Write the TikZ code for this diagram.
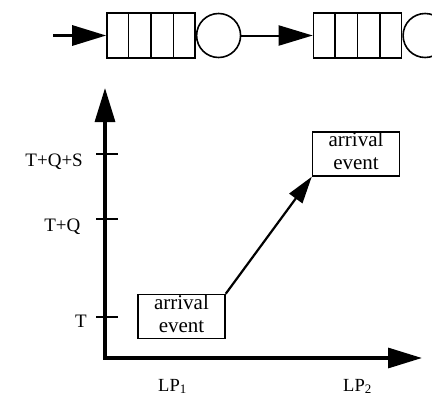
\documentclass[tikz,border=0pt]{standalone}
\usepackage{fontspec}
\setmainfont{Liberation Serif}
\usetikzlibrary{arrows.meta,calc}
\begin{document}
\begin{tikzpicture}[x=1pt,y=-1pt,
  bigtip/.style={-{Triangle[length=34pt,width=20pt]}},
  qcell/.style={draw,line width=1.6pt,minimum width=88pt,minimum height=45pt,inner sep=0pt},
  server/.style={draw,circle,line width=1.6pt,minimum size=44pt,inner sep=0pt},
  axis/.style={line width=3.2pt,line join=miter,
    {Triangle[length=34pt,width=20pt]}-{Triangle[length=34pt,width=20pt]}},
  tickmark/.style={line width=1.8pt},
  ticklab/.style={anchor=base east,inner sep=0pt,font=\fontsize{19}{21}\selectfont},
  evbox/.style={draw,line width=1.5pt,minimum width=87pt,minimum height=44pt,inner sep=0pt},
  evtext/.style={align=center,inner sep=0pt,font=\fontsize{21}{23}\selectfont},
  lplab/.style={anchor=base west,inner sep=0pt,font=\fontsize{18.5}{20}\selectfont}
]
\useasboundingbox (0,0) rectangle (432,397);
\clip (0,0) rectangle (432,397);

% two queue stations in tandem
\node[qcell] (q1) at (151,35.5) {};
\node[server,anchor=west] (s1) at (q1.east) {};
\node[qcell] (q2) at (357.5,35.5) {};
\node[server,anchor=west] (s2) at (q2.east) {};
\foreach \q in {q1,q2}
  \foreach \f in {0.25,0.5,0.75}
    \draw[line width=1.6pt] ($(\q.north west)!\f!(\q.north east)$) -- ($(\q.south west)!\f!(\q.south east)$);
\coordinate (in) at (53,35.5);
\draw[line width=3pt,bigtip] (in) -- (q1.west);
\draw[line width=2pt,bigtip] (s1.east) -- (q2.west);

% time axes
\coordinate (o) at (105,358);
\coordinate (ytip) at (105,88);
\coordinate (xtip) at (422,358);
\draw[axis] (ytip) -- (o) -- (xtip);

% ticks and their labels
\foreach \y in {154,219,317}
  \draw[tickmark] (96,\y) -- (118,\y);
\node[ticklab] (ltqs) at (83,166) {T+Q+S};
\node[ticklab] (ltq) at (80.5,231) {T+Q};
\node[ticklab] (lt) at (87,327) {T};

% processes
\node[lplab] (lp1) at (158,391) {LP\textsubscript{1}};
\node[lplab] (lp2) at (343,391) {LP\textsubscript{2}};

% arrival events
\node[evbox] (e1) at (181.5,316.5) {};
\node[evtext] (e1t) at ([yshift=2.8pt]e1.center) {arrival\\event};
\node[evbox] (e2) at (356,154) {};
\node[evtext] (e2t) at ([yshift=2.8pt]e2.center) {arrival\\event};
\draw[line width=2.2pt,-{Triangle[length=27pt,width=16pt]}] (e1.north east) -- (e2.south west);
\end{tikzpicture}
\end{document}
